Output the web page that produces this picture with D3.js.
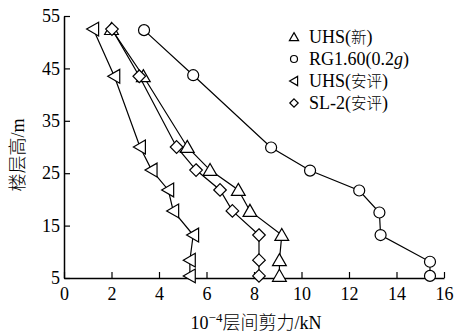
<!DOCTYPE html>
<html>
<head>
<meta charset="utf-8">
<script src="https://cdn.jsdelivr.net/npm/d3@7"></script>
<style>
  body { margin: 0; background: #fff; }
  text { font-family: 'Liberation Serif', 'Noto Sans CJK SC', serif; fill: #000; }
  .cjk { font-family: 'Noto Sans CJK SC', sans-serif; font-weight: 300; }
</style>
</head>
<body>
<div id="chart"></div>
<script>
// storey heights (m) for each point, bottom to top
const heights = [5.4, 8.4, 13.2, 17.8, 21.8, 25.6, 30, 43.5, 52.5];
const rgHeights = [5.4, 8.1, 13.2, 17.5, 21.7, 25.5, 29.9, 43.7, 52.3];

// storey shear, 10^-4 kN
const uhsNew = [9.07, 9.07, 9.17, 7.83, 7.34, 6.15, 5.19, 3.34, 2.0];
const rg160 = [15.41, 15.41, 13.33, 13.28, 12.43, 10.36, 8.72, 5.44, 3.37];
const uhsEval = [5.3, 5.3, 5.44, 4.6, 4.39, 3.69, 3.2, 2.12, 1.23];
const sl2Eval = [8.21, 8.21, 8.21, 7.09, 6.57, 5.56, 4.74, 3.17, 2.02];

const xTicks = [0, 2, 4, 6, 8, 10, 12, 14, 16];
const yTicks = [5, 15, 25, 35, 45, 55];

const series = [
  { pre: 'UHS(', cjk: '新', post: ')', values: uhsNew, hs: heights, marker: 'triUp' },
  { pre: 'RG1.60(0.2', ital: 'g', post: ')', values: rg160, hs: rgHeights, marker: 'circle' },
  { pre: 'UHS(', cjk: '安评', post: ')', values: uhsEval, hs: heights, marker: 'triLeft' },
  { pre: 'SL-2(', cjk: '安评', post: ')', values: sl2Eval, hs: heights, marker: 'diamond' },
];

const width = 466;
const height = 336;
const margin = { top: 16, right: 22, bottom: 58, left: 64 };

const svg = d3.select('#chart').append('svg')
  .attr('width', width)
  .attr('height', height);

const x = d3.scaleLinear().domain([0, 16]).range([margin.left, width - margin.right]);
const y = d3.scaleLinear().domain([5, 55]).range([height - margin.bottom, margin.top]);

// axes, ticks point inward
const xAxis = svg.append('g')
  .attr('transform', `translate(0,${y(5)})`)
  .call(d3.axisBottom(x).tickValues(xTicks).tickSize(-6).tickPadding(10).tickSizeOuter(0));
const yAxis = svg.append('g')
  .attr('transform', `translate(${x(0)},0)`)
  .call(d3.axisLeft(y).tickValues(yTicks).tickSize(-6).tickPadding(4).tickSizeOuter(0));

[xAxis, yAxis].forEach((g) => {
  g.select('.domain').attr('stroke', '#000').attr('stroke-width', 1.5);
  g.selectAll('.tick line').attr('stroke', '#000').attr('stroke-width', 1.2);
  g.selectAll('.tick text')
    .attr('font-size', 18)
    .attr('font-family', "'Liberation Serif', serif")
    .attr('fill', '#000');
});
xAxis.selectAll('.tick text').attr('dy', '0.75em').attr('y', 8);

// axis titles
const xt = svg.append('text')
  .attr('x', 256)
  .attr('y', 329)
  .attr('text-anchor', 'middle')
  .attr('font-size', 18);
xt.append('tspan').text('10');
xt.append('tspan').attr('dy', -7).attr('font-size', 13).text('−4');
xt.append('tspan').attr('dy', 7).attr('class', 'cjk').text('层间剪力');
xt.append('tspan').text('/kN');

const yt = svg.append('text')
  .attr('transform', `translate(24,155) rotate(-90)`)
  .attr('text-anchor', 'middle')
  .attr('font-size', 18);
yt.append('tspan').attr('class', 'cjk').text('楼层高');
yt.append('tspan').text('/m');

// marker shapes, s = size factor
function markerPath(type, s) {
  if (type === 'circle') {
    return `M${s},0A${s},${s} 0 1,1 ${-s},0A${s},${s} 0 1,1 ${s},0Z`;
  }
  if (type === 'triUp') {
    return `M0,${-s * 1.1}L${s * 1.15},${s * 0.9}L${-s * 1.15},${s * 0.9}Z`;
  }
  if (type === 'triLeft') {
    return `M${-s * 1.1},0L${s * 0.9},${-s * 1.15}L${s * 0.9},${s * 1.15}Z`;
  }
  return `M0,${-s * 1.05}L${s * 1.05},0L0,${s * 1.05}L${-s * 1.05},0Z`;
}

const line = d3.line();

series.forEach((s) => {
  const pts = s.values.map((v, i) => [x(v), y(s.hs[i])]);
  svg.append('path')
    .attr('d', line(pts))
    .attr('fill', 'none')
    .attr('stroke', '#000')
    .attr('stroke-width', 1.2);
  svg.append('g').selectAll('path')
    .data(pts)
    .join('path')
    .attr('transform', (d) => `translate(${d[0]},${d[1]})`)
    .attr('d', markerPath(s.marker, s.marker === 'circle' ? 5.5 : 6))
    .attr('fill', '#fff')
    .attr('stroke', '#000')
    .attr('stroke-width', 1.2);
});

// legend
const legend = svg.append('g').attr('transform', 'translate(294,37)');
series.forEach((s, i) => {
  const row = legend.append('g').attr('transform', `translate(0,${i * 22})`);
  row.append('path')
    .attr('d', markerPath(s.marker, s.marker === 'circle' ? 3.5 : 4))
    .attr('fill', '#fff')
    .attr('stroke', '#000')
    .attr('stroke-width', 1.2);
  const t = row.append('text')
    .attr('x', 15)
    .attr('dy', '0.35em')
    .attr('font-size', 18);
  t.append('tspan').text(s.pre);
  if (s.ital) t.append('tspan').attr('font-style', 'italic').text(s.ital);
  if (s.cjk) t.append('tspan').attr('class', 'cjk').attr('font-size', 15.5).text(s.cjk);
  t.append('tspan').text(s.post);
});
</script>
</body>
</html>
